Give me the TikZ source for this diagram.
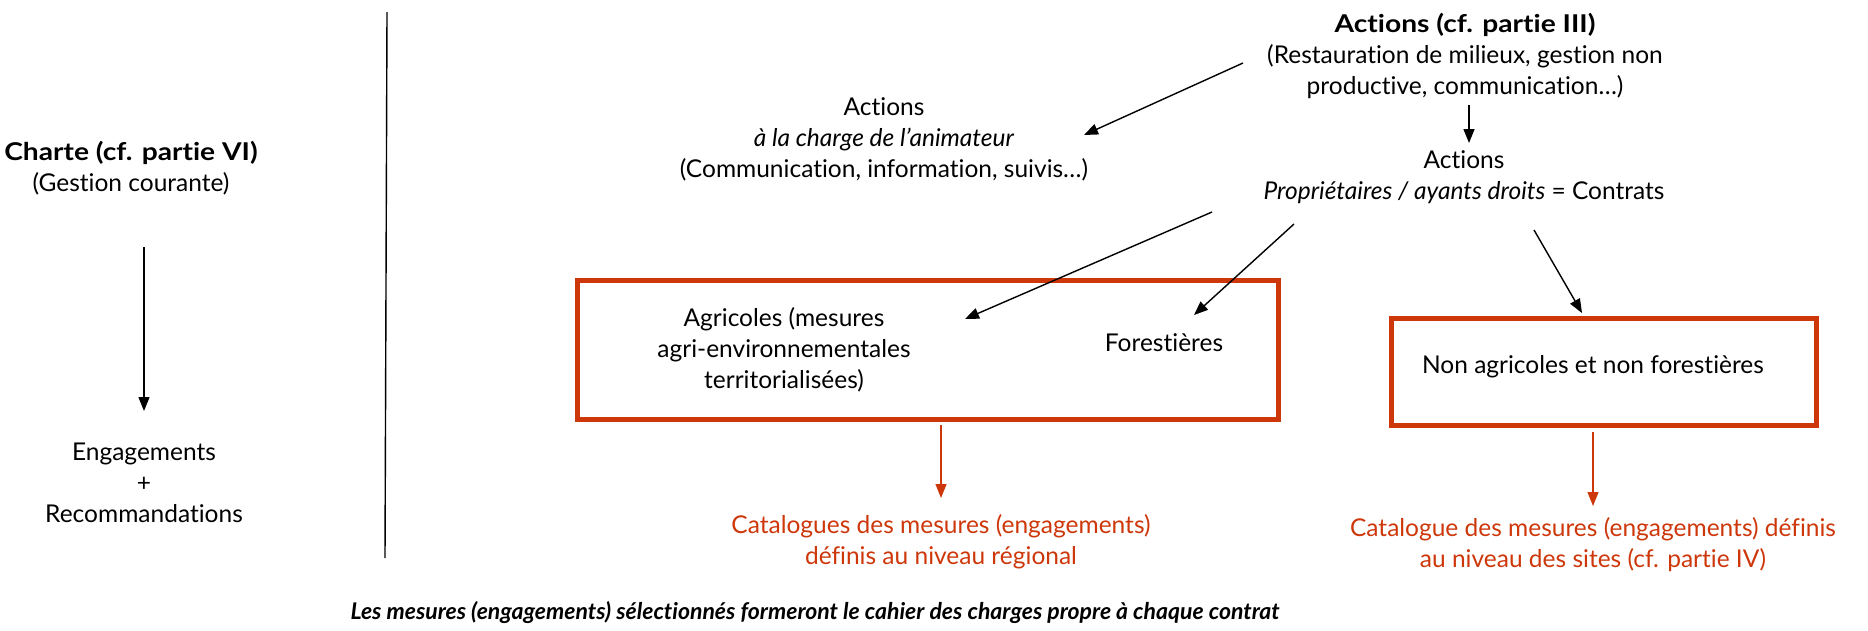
\documentclass[tikz,border=0pt]{standalone}
\usepackage{fontspec}
\setmainfont{Lato}[Ligatures=NoCommon,BoldFeatures={FakeStretch=1.15}]
\newfontfamily\bifont{Lato}[Ligatures=NoCommon]
\usetikzlibrary{arrows.meta}
\definecolor{rouge}{RGB}{205,55,10}
\begin{document}
\begin{tikzpicture}[x=1pt,y=-1pt,
  txt/.style={align=center,inner sep=0pt,font=\fontsize{24.5}{31}\selectfont},
  arr/.style={-{Triangle[length=14pt,width=11pt]},line width=1.4pt},
  rarr/.style={-{Triangle[length=14pt,width=11pt]},line width=1.2pt,draw=rouge,fill=rouge},
  rbox/.style={draw=rouge,line width=5pt,inner sep=0pt}]
\useasboundingbox (0,0) rectangle (1868,630);
% left column
\node[txt] (charte) at (131,168) {\textbf{Charte (cf. partie VI)}\\(Gestion courante)};
\node[txt] (engag) at (144,483) {Engagements\\+\\Recommandations};
\coordinate (c1) at (144,247);
\coordinate (c2) at (144,411);
\draw[arr] (c1) -- (c2);
% divider
\coordinate (d1) at (387,12);
\coordinate (d2) at (385,558);
\draw[line width=1.4pt] (d1) -- (d2);
% right part
\node[txt] (act3) at (1465,56) {\textbf{Actions (cf. partie III)}\\(Restauration de milieux, gestion non\\productive, communication…)};
\node[txt] (anim) at (884,139) {Actions\\\textit{à la charge de l’animateur}\\(Communication, information, suivis…)};
\node[txt] (prop) at (1464,177) {Actions\\\textit{Propriétaires / ayants droits} = Contrats};
\node[rbox,minimum width=701pt,minimum height=139pt] (boxL) at (927.5,349.5) {};
\node[rbox,minimum width=425pt,minimum height=107pt] (boxR) at (1603.5,371.5) {};
\node[txt] (agri) at (784,350) {Agricoles (mesures\\agri-environnementales\\territorialisées)};
\node[txt] (forest) at (1164,343) {Forestières};
\node[txt] (nonagr) at (1593,367) {Non agricoles et non forestières};
\node[txt,text=rouge] (catL) at (941,542) {Catalogues des mesures (engagements)\\définis au niveau régional};
\node[txt,text=rouge] (catR) at (1593,545) {Catalogue des mesures (engagements) définis\\au niveau des sites (cf. partie IV)};
\node[txt,font=\bifont\fontsize{23}{31}\selectfont\bfseries\itshape] (bottom) at (815,613) {Les mesures (engagements) sélectionnés formeront le cahier des charges propre à chaque contrat};
% arrows
\coordinate (a1s) at (1243,63);  \coordinate (a1e) at (1084,135);
\coordinate (a2s) at (1469,105); \coordinate (a2e) at (1469,143);
\coordinate (a3s) at (1212,212); \coordinate (a3e) at (965,319);
\coordinate (a4s) at (1294,224); \coordinate (a4e) at (1194,315);
\coordinate (a5s) at (1534,230); \coordinate (a5e) at (1582,313);
\draw[arr] (a1s) -- (a1e);
\draw[arr] (a2s) -- (a2e);
\draw[arr] (a3s) -- (a3e);
\draw[arr] (a4s) -- (a4e);
\draw[arr] (a5s) -- (a5e);
\coordinate (r1s) at (941,425);  \coordinate (r1e) at (941,498);
\coordinate (r2s) at (1593,432); \coordinate (r2e) at (1593,506);
\draw[rarr] (r1s) -- (r1e);
\draw[rarr] (r2s) -- (r2e);
\end{tikzpicture}
\end{document}
